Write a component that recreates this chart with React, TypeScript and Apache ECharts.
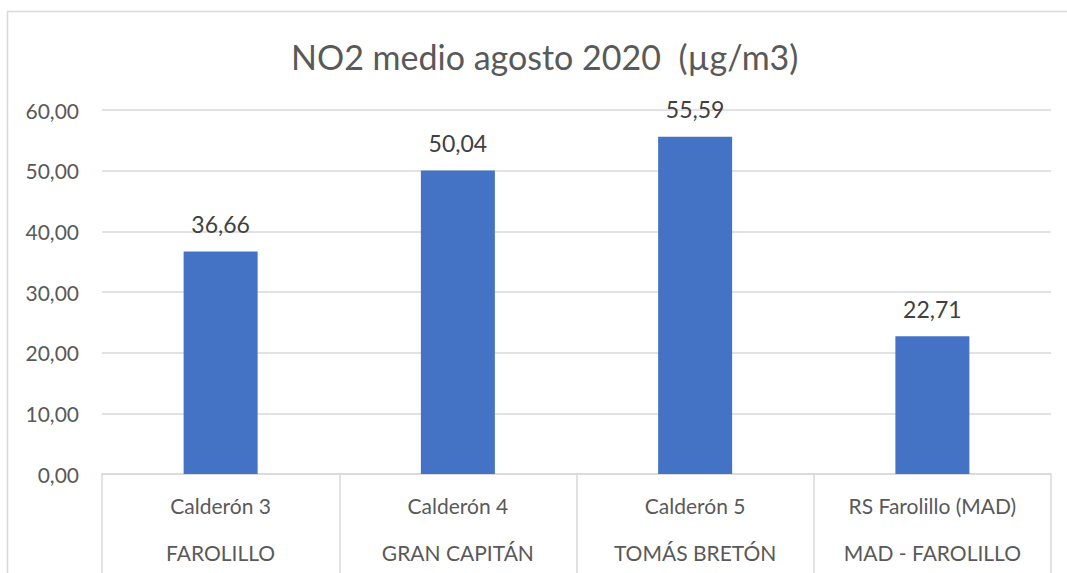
import React, { useEffect, useRef } from "react";
import * as echarts from "echarts";

const stations = ["Calderón 3", "Calderón 4", "Calderón 5", "RS Farolillo (MAD)"];
const places = ["FAROLILLO", "GRAN CAPITÁN", "TOMÁS BRETÓN", "MAD - FAROLILLO"];
const no2Values = [36.66, 50.04, 55.59, 22.71];
const titleText = "NO2 medio agosto 2020  (µg/m3)";

const FONT = "Lato, 'Open Sans', sans-serif";
const fmt = (v: number) => v.toFixed(2).replace(".", ",");

export default function App() {
  const ref = useRef<HTMLDivElement>(null);
  useEffect(() => {
    if (!ref.current) return;
    const chart = echarts.init(ref.current, undefined, { renderer: "svg" });
    chart.setOption({
      animation: false,
      backgroundColor: "#ffffff",
      textStyle: { fontFamily: FONT },
      title: {
        text: titleText,
        left: 286,
        top: 34,
        textStyle: { fontFamily: FONT, fontSize: 34, fontWeight: "normal", color: "#595959" },
      },
      graphic: [
        {
          type: "rect",
          shape: { x: 7.5, y: 11.5, width: 1100, height: 600 },
          style: { fill: "none", stroke: "#d9d9d9", lineWidth: 1.5 },
          silent: true,
        },
      ],
      grid: { left: 102, right: 16, top: 110, bottom: 99 },
      xAxis: [
        {
          type: "category",
          data: stations,
          position: "bottom",
          axisLine: { show: true, lineStyle: { color: "#d9d9d9", width: 1.5 } },
          axisTick: { show: true, interval: 0, length: 100, lineStyle: { color: "#d9d9d9", width: 1.5 } },
          axisLabel: { interval: 0, margin: 21, fontSize: 21, color: "#595959", fontFamily: FONT },
          splitLine: { show: false },
        },
        {
          type: "category",
          data: places,
          position: "bottom",
          axisLine: { show: false },
          axisTick: { show: false },
          axisLabel: { interval: 0, margin: 68, fontSize: 21, color: "#595959", fontFamily: FONT },
          splitLine: { show: false },
        },
      ],
      yAxis: {
        type: "value",
        min: 0,
        max: 60,
        interval: 10,
        axisLine: { show: false },
        axisTick: { show: false },
        axisLabel: { formatter: (v: number) => fmt(v), fontSize: 21, color: "#595959", margin: 23, fontFamily: FONT },
        splitLine: { lineStyle: { color: "#d9d9d9", width: 1.5 } },
      },
      series: [
        {
          type: "bar",
          data: no2Values,
          barWidth: 74,
          itemStyle: { color: "#4472c4" },
          label: {
            show: true,
            position: "top",
            distance: 16,
            fontSize: 23,
            color: "#404040",
            fontFamily: FONT,
            formatter: (p: any) => fmt(p.value),
          },
        },
      ],
    });
    return () => chart.dispose();
  }, []);
  return (
    <div
      ref={ref}
      style={{ position: "fixed", left: 0, top: 0, width: 1067, height: 573 }}
    />
  );
}
